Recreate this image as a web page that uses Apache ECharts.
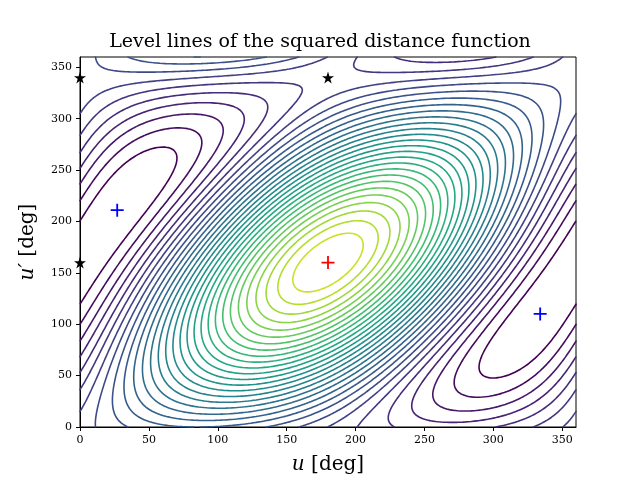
<!DOCTYPE html>
<html><head><meta charset="utf-8">
<script src="https://cdn.jsdelivr.net/npm/echarts@6/dist/echarts.min.js"></script>
<style>html,body{margin:0;padding:0;background:#fff}#c{width:640px;height:480px}</style>
</head><body><div id="c"></div>
<script>
// Field model: f = p*cos(u-uMax) + q*cos(v-vMax) + r*cos(u-v-(uMax-vMax))
const maxPoint = [180, 160];
const minPoints = [[27, 211], [334, 110]];
const saddlePoints = [[0, 340], [180, 340], [0, 160]];
const weights = [0.91, 0.53, 1.0];
const levelCount = 30;
const tickValues = [0, 50, 100, 150, 200, 250, 300, 350];

const viridis = ['#440154','#482475','#414487','#355f8d','#2a788e','#21918c','#22a884','#44bf70','#7ad151','#bddf26','#fde725'];
function cmap(t){t=Math.max(0,Math.min(1,t));const s=t*(viridis.length-1),i=Math.min(Math.floor(s),viridis.length-2),f=s-i;
const a=viridis[i],b=viridis[i+1];const h=(c,k)=>parseInt(c.substr(1+2*k,2),16);
return 'rgb('+[0,1,2].map(k=>Math.round(h(a,k)+(h(b,k)-h(a,k))*f)).join(',')+')';}

const D=Math.PI/180;
function field(u,v){const [p,q,r]=weights;return p*Math.cos((u-maxPoint[0])*D)+q*Math.cos((v-maxPoint[1])*D)+r*Math.cos((u-v-(maxPoint[0]-maxPoint[1]))*D);}
const N=181, step=2;
const G=[];for(let j=0;j<N;j++){G.push([]);for(let i=0;i<N;i++)G[j].push(field(i*step,j*step));}
let fmin=Infinity,fmax=-Infinity;G.forEach(r=>r.forEach(x=>{fmin=Math.min(fmin,x);fmax=Math.max(fmax,x);}));
const levels=[];for(let k=1;k<=levelCount;k++)levels.push(fmin+(fmax-fmin)*k/(levelCount+1));

function contour(L){const out=[];
for(let j=0;j<N-1;j++)for(let i=0;i<N-1;i++){
const c=[[i,j],[i+1,j],[i+1,j+1],[i,j+1]];const vals=c.map(([x,y])=>G[y][x]);
const pts=[];for(let e=0;e<4;e++){const a=vals[e],b=vals[(e+1)%4];
if((a<L)!==(b<L)){const t=(L-a)/(b-a);const A=c[e],B=c[(e+1)%4];
pts.push([(A[0]+(B[0]-A[0])*t)*step,(A[1]+(B[1]-A[1])*t)*step]);}}
if(pts.length===2){out.push(pts[0],pts[1],'-');}
else if(pts.length===4){out.push(pts[0],pts[1],'-',pts[2],pts[3],'-');}}
return out;}

const series=levels.map((L,k)=>({type:'line',data:contour(L),showSymbol:false,symbol:'none',connectNulls:false,
lineStyle:{width:1.6,cap:'round',color:cmap(k/(levelCount-1)*0.92)},silent:true,animation:false,z:2}));

const plus='path://M-1,-0.14L1,-0.14L1,0.14L-1,0.14Z M-0.14,-1L0.14,-1L0.14,1L-0.14,1Z';
const star='path://M0,-1L0.2245,-0.309L0.951,-0.309L0.3633,0.118L0.5878,0.809L0,0.382L-0.5878,0.809L-0.3633,0.118L-0.951,-0.309L-0.2245,-0.309Z';
series.push({type:'scatter',data:saddlePoints,symbol:star,symbolSize:12,itemStyle:{color:'#000',opacity:1},z:5,animation:false});
series.push({type:'scatter',data:minPoints,symbol:plus,symbolSize:13,itemStyle:{color:'#0000ff',opacity:1},z:5,animation:false});
series.push({type:'scatter',data:[maxPoint],symbol:plus,symbolSize:13,itemStyle:{color:'#ff0000',opacity:1},z:5,animation:false});

const font='DejaVu Serif';
const ax=(name,gap)=>({type:'value',min:0,max:360,interval:50,name:name,nameLocation:'middle',nameGap:gap,
nameTextStyle:{fontFamily:font,fontSize:20,color:'#000',rich:{i:{fontFamily:font,fontStyle:'italic',fontSize:20,color:'#000'}}},
axisLine:{show:true,onZero:false,lineStyle:{color:'#000',width:1}},axisTick:{show:true,length:4,lineStyle:{color:'#000'}},
axisLabel:{fontFamily:font,fontSize:11,color:'#000',showMaxLabel:false,formatter:v=>tickValues.includes(v)?String(v):''},splitLine:{show:false}});
const chart=echarts.init(document.getElementById('c'));
chart.setOption({animation:false,backgroundColor:'#fff',
title:{text:'Level lines of the squared distance function',left:'center',top:28,textStyle:{fontFamily:font,fontSize:19,fontWeight:'normal',color:'#000'}},
grid:{left:80,right:64,top:57,bottom:53,show:true,borderColor:'#000',borderWidth:1},
xAxis:ax('{i|u} [deg]',28),yAxis:ax("{i|u′} [deg]",42),series:series});
</script></body></html>
